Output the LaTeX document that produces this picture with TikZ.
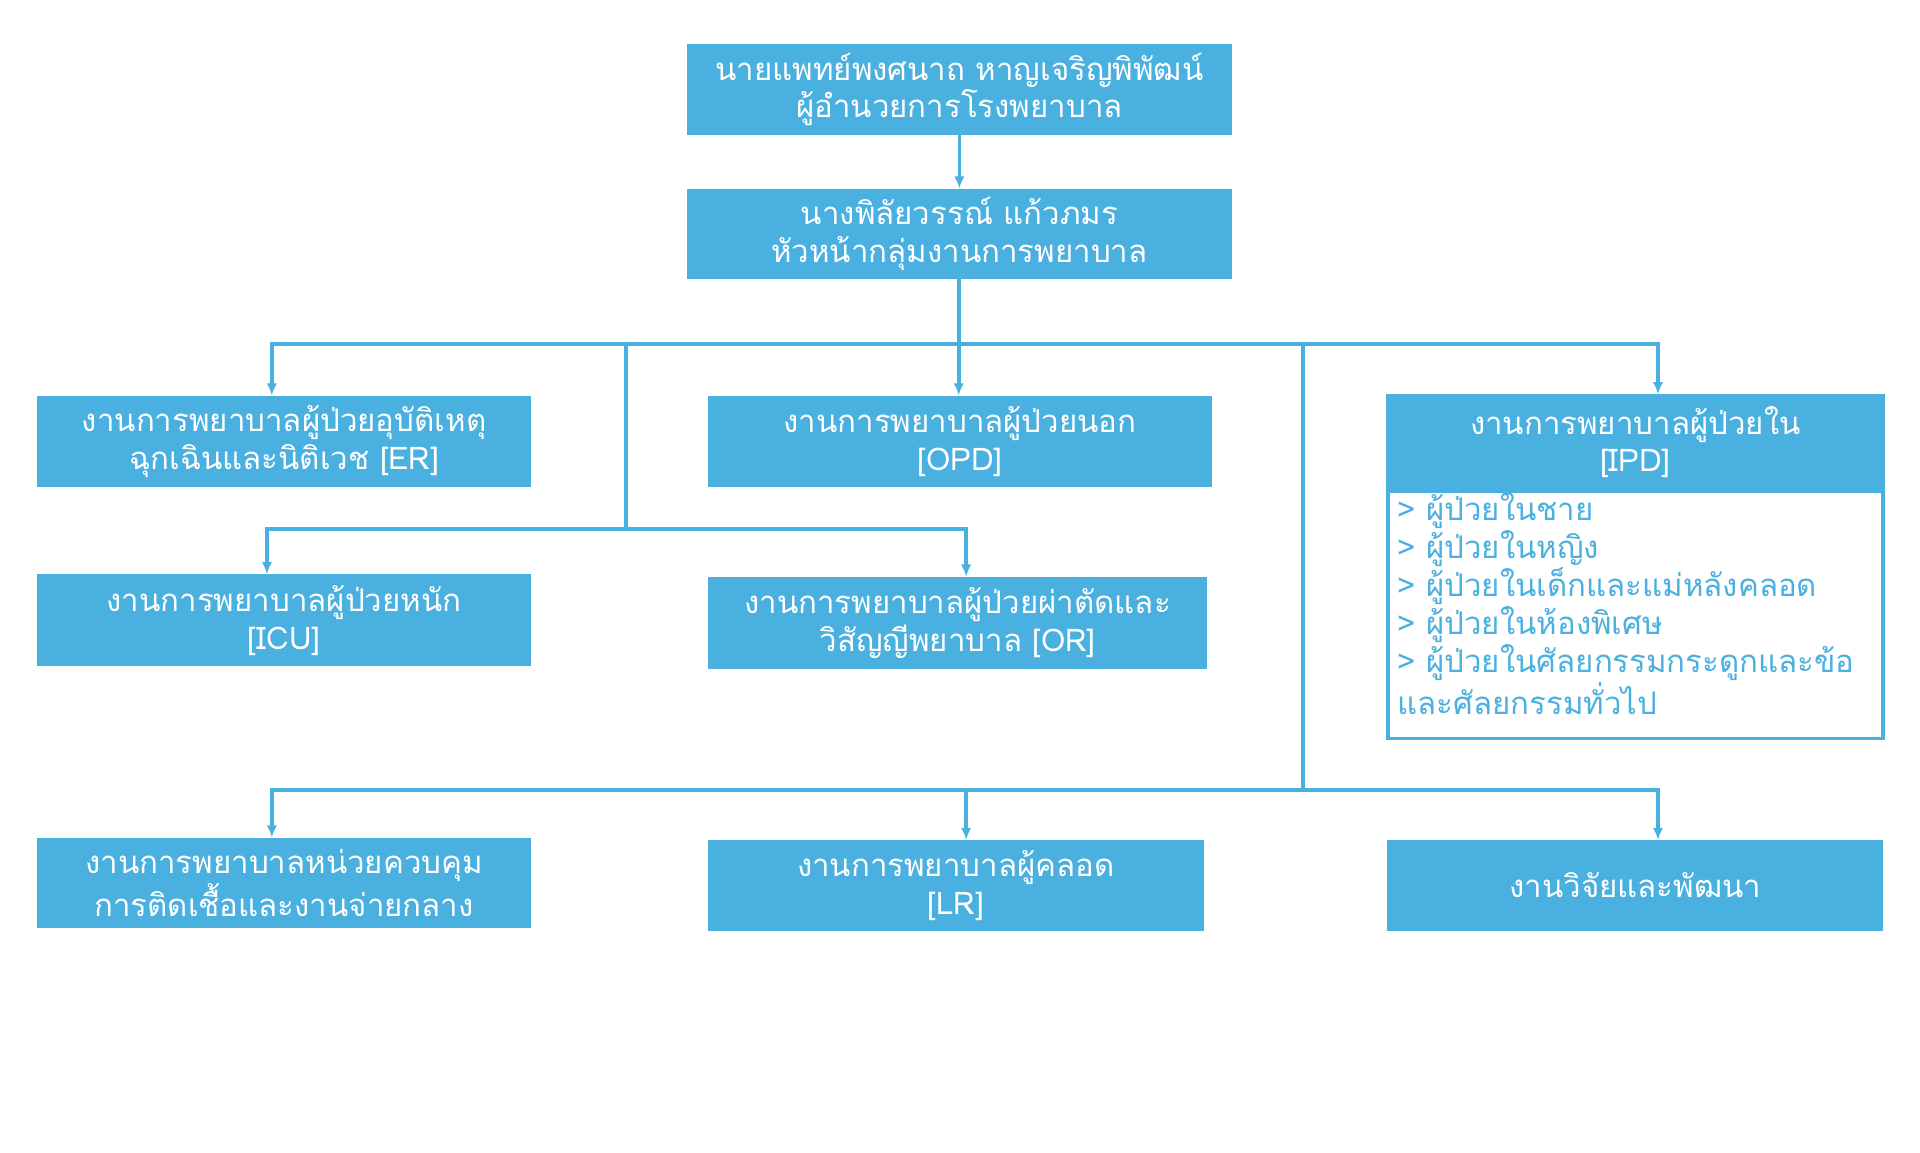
\documentclass[tikz,border=0pt]{standalone}
\usepackage{fontspec}
\newfontfamily\thaifont[Script=Thai]{Loma}
\usetikzlibrary{arrows.meta,positioning}
\definecolor{orgblue}{HTML}{49B0E0}

\begin{document}
\begin{tikzpicture}[x=0.2mm,y=-0.2mm,
every node/.style={font=\thaifont\fontsize{14.5}{17.6}\selectfont},
box/.style={fill=orgblue,text=white,align=center,inner sep=0pt,outer sep=0pt,anchor=north west,minimum height=15mm},
listbox/.style={draw=orgblue,line width=0.6mm,fill=white,inner sep=0pt,outer sep=0pt,anchor=north west},
listtxt/.style={text=orgblue,align=left,inner sep=0pt,anchor=north west},
wire/.style={draw=orgblue,line width=0.62mm},
arr/.style={wire,-{Latex[length=2mm,width=1.7mm]}}
]
\useasboundingbox (0,0) rectangle (1568,941);

% top levels
\node[box,minimum width=89mm,minimum height=14.8mm] (dir) at (561,36) {นายแพทย์พงศนาถ หาญเจริญพิพัฒน์\\ผู้อำนวยการโรงพยาบาล};
\node[box,minimum width=89mm,minimum height=14.8mm] (head) at (561,154) {นางพิลัยวรรณ์ แก้วภมร\\หัวหน้ากลุ่มงานการพยาบาล};

% first row
\node[box,minimum width=80.8mm] (er) at (30,323) {งานการพยาบาลผู้ป่วยอุบัติเหตุ\\ฉุกเฉินและนิติเวช [ER]};
\node[box,minimum width=82.4mm] (opd) at (578,323) {งานการพยาบาลผู้ป่วยนอก\\{[OPD]}};
\node[listbox,minimum width=80.8mm,minimum height=40.4mm] (ipdlist) at (1133.5,401) {};
\node[box,minimum width=81.4mm,minimum height=15.6mm] (ipd) at (1132,322) {งานการพยาบาลผู้ป่วยใน\\{[IPD]}};
\node[listtxt] (ipdtxt) at (1141,402) {> ผู้ป่วยในชาย\\> ผู้ป่วยในหญิง\\> ผู้ป่วยในเด็กและแม่หลังคลอด\\> ผู้ป่วยในห้องพิเศษ\\> ผู้ป่วยในศัลยกรรมกระดูกและข้อ\\และศัลยกรรมทั่วไป};

% second row
\node[box,minimum width=80.8mm] (icu) at (30,469) {งานการพยาบาลผู้ป่วยหนัก\\{[ICU]}};
\node[box,minimum width=81.6mm] (or) at (578,471) {งานการพยาบาลผู้ป่วยผ่าตัดและ\\วิสัญญีพยาบาล [OR]};

% third row
\node[box,minimum width=80.8mm,minimum height=14.8mm] (ic) at (30,684) {งานการพยาบาลหน่วยควบคุม\\การติดเชื้อและงานจ่ายกลาง};
\node[box,minimum width=81mm,minimum height=14.8mm] (lr) at (578,686) {งานการพยาบาลผู้คลอด\\{[LR]}};
\node[box,minimum width=81mm,minimum height=14.8mm] (rnd) at (1133,686) {งานวิจัยและพัฒนา};

\coordinate (hub) at (783,281);
\coordinate (b1) at (511,281);
\coordinate (b1d) at (511,432);
\coordinate (b2) at (1064,281);
\coordinate (b2d) at (1064,645);

\draw[arr] (dir) -- (head);
\draw[wire] (head.south -| hub) -- (hub);
\draw[arr] (hub) -| ([xshift=-2mm]er.north);
\draw[arr] (hub) -- (hub |- opd.north);
\draw[arr] (hub) -| ([xshift=3.7mm]ipd.north);

\draw[wire] (b1) -- (b1d);
\draw[arr] (b1d) -| ([xshift=-2.8mm]icu.north);
\draw[arr] (b1d) -| ([xshift=1.4mm]or.north);

\draw[wire] (b2) -- (b2d);
\draw[arr] (b2d) -| ([xshift=-2mm]ic.north);
\draw[arr] (b2d) -| ([xshift=1.7mm]lr.north);
\draw[arr] (b2d) -| ([xshift=3.7mm]rnd.north);
\end{tikzpicture}
\end{document}
